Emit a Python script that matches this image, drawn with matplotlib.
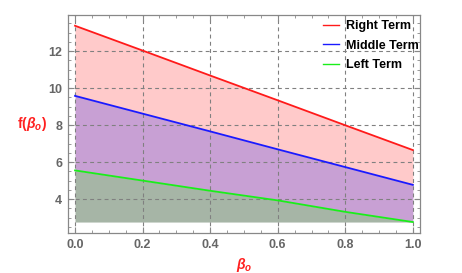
import numpy as np
import matplotlib.pyplot as plt
from matplotlib.ticker import MultipleLocator

plt.rcParams['font.family'] = ['Liberation Sans', 'DejaVu Sans']
plt.rcParams['mathtext.fontset'] = 'custom'
plt.rcParams['mathtext.rm'] = 'Liberation Sans:bold'
plt.rcParams['mathtext.it'] = 'Liberation Sans:bold:italic'
plt.rcParams['mathtext.bf'] = 'Liberation Sans:bold'

# values
beta = [0.0, 0.2, 0.4, 0.6, 0.8, 1.0]
right_term = [13.37, 12.03, 10.68, 9.34, 7.99, 6.65]
middle_term = [9.58, 8.62, 7.66, 6.69, 5.73, 4.77]
left_term = [5.55, 5.00, 4.45, 3.93, 3.31, 2.76]
base = min(left_term)

fig = plt.figure(figsize=(4.62, 2.73), dpi=100)
ax = fig.add_axes([0.147, 0.146, 0.762, 0.799])

# filled bands
ax.fill_between(beta, middle_term, right_term, color='#FFCACA', lw=0, zorder=1)
ax.fill_between(beta, left_term, middle_term, color='#C8A0D4', lw=0, zorder=1)
ax.fill_between(beta, base, left_term, color='#A6B5A6', lw=0, zorder=1)

ax.plot(beta, right_term, color='#FF1A1A', lw=1.3, label='Right Term', zorder=3)
ax.plot(beta, middle_term, color='#1A1AFF', lw=1.3, label='Middle Term', zorder=3)
ax.plot(beta, left_term, color='#1AEE1A', lw=1.3, label='Left Term', zorder=3)

ax.set_xlim(-0.021, 1.021)
ax.set_ylim(2.16, 13.95)
ax.xaxis.set_major_locator(MultipleLocator(0.2))
ax.xaxis.set_minor_locator(MultipleLocator(0.05))
ax.yaxis.set_major_locator(MultipleLocator(2))
ax.yaxis.set_minor_locator(MultipleLocator(0.5))
ax.set_xticks([0, 0.2, 0.4, 0.6, 0.8, 1.0])
ax.set_xticklabels(['0.0', '0.2', '0.4', '0.6', '0.8', '1.0'])
ax.set_yticks([4, 6, 8, 10, 12])

ax.grid(True, which='major', color='#808080', ls=(0, (3.5, 3)), lw=0.8, zorder=2)
ax.set_axisbelow(False)

ax.tick_params(which='both', direction='in', top=True, right=True,
               color='#888888', labelcolor='#666666', labelsize=9)
ax.tick_params(which='major', length=4, width=0.8, pad=4)
ax.tick_params(which='minor', length=2, width=0.6)
for lbl in ax.get_xticklabels() + ax.get_yticklabels():
    lbl.set_fontweight('bold')
for s in ax.spines.values():
    s.set_color('#888888')
    s.set_linewidth(0.9)

ax.set_xlabel(r'$\beta_o$', color='#FF2020', fontsize=10, labelpad=4)
ax.set_ylabel(r'$\mathrm{f(}\beta_o\mathrm{)}$', color='#FF2020', fontsize=10,
              rotation=0, labelpad=12, va='center')

leg = ax.legend(loc='upper right', frameon=False, fontsize=9, handlelength=1.3,
                handletextpad=0.6, labelspacing=0.6, borderaxespad=0.0,
                bbox_to_anchor=(1.012, 1.0))
for t in leg.get_texts():
    t.set_fontweight('bold')
for h in leg.get_lines():
    h.set_linewidth(1.0)

plt.savefig('out.png', dpi=100)
